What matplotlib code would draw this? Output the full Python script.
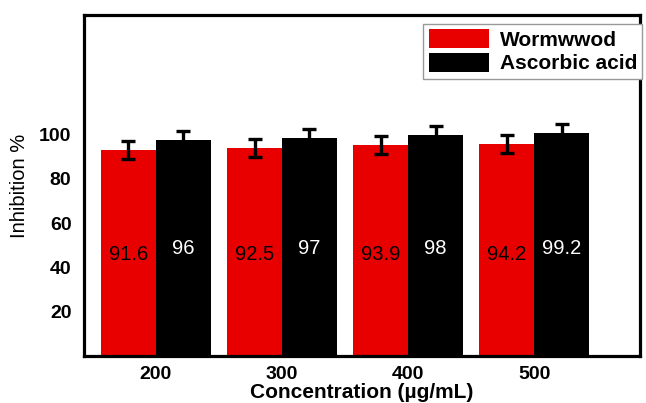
import matplotlib.pyplot as plt
import numpy as np

plt.rcParams['font.family'] = ['Liberation Sans', 'DejaVu Sans']

concentrations = ['200', '300', '400', '500']
wormwood = [93.0, 94.0, 95.3, 95.7]
ascorbic = [97.5, 98.4, 99.8, 100.7]
wormwood_err = [4.0, 4.0, 4.0, 4.0]
ascorbic_err = [4.0, 4.0, 4.0, 4.0]
wormwood_labels = ['91.6', '92.5', '93.9', '94.2']
ascorbic_labels = ['96', '97', '98', '99.2']

x = np.arange(len(concentrations))
w = 0.435

fig = plt.figure(figsize=(6.46, 4.03), dpi=100)
ax = fig.add_axes([0.130, 0.117, 0.861, 0.846])

ekw = dict(ecolor='black', elinewidth=2.4, capsize=5, capthick=2.4)
ax.bar(x - w / 2, wormwood, w, color='#e80000', label='Wormwwod', yerr=wormwood_err, error_kw=ekw)
ax.bar(x + w / 2, ascorbic, w, color='black', label='Ascorbic acid', yerr=ascorbic_err, error_kw=ekw)

for i in range(len(x)):
    ax.text(x[i] - w / 2, 46, wormwood_labels[i], ha='center', va='center', fontsize=14.5, color='black')
    ax.text(x[i] + w / 2, 48.5, ascorbic_labels[i], ha='center', va='center', fontsize=14.5, color='white')

ax.set_xlim(-0.57, 3.84)
ax.set_ylim(0, 154)
ax.set_xticks(x)
ax.set_xticklabels(concentrations, fontweight='bold', fontsize=14)
ax.set_yticks([20, 40, 60, 80, 100])
ax.set_yticklabels(['20', '40', '60', '80', '100'], fontweight='bold', fontsize=14)
ax.tick_params(length=0)
ax.tick_params(axis='x', pad=7)
ax.tick_params(axis='y', pad=9)
for s in ax.spines.values():
    s.set_linewidth(2.3)

ax.set_ylabel('Inhibition %', fontsize=14.5, labelpad=7)
ax.set_xlabel('Concentration (µg/mL)', fontsize=15, fontweight='bold', labelpad=0)

leg = ax.legend(loc='upper right', bbox_to_anchor=(0.994, 0.94), bbox_transform=fig.transFigure,
                fancybox=False, framealpha=1, edgecolor='#999999',
                prop=dict(weight='bold', size=15), handlelength=2.9, handleheight=1.0,
                labelspacing=0.15, borderpad=0.25, handletextpad=0.5, borderaxespad=0)
leg.get_frame().set_linewidth(1.0)

fig.savefig('out.png', dpi=100)
